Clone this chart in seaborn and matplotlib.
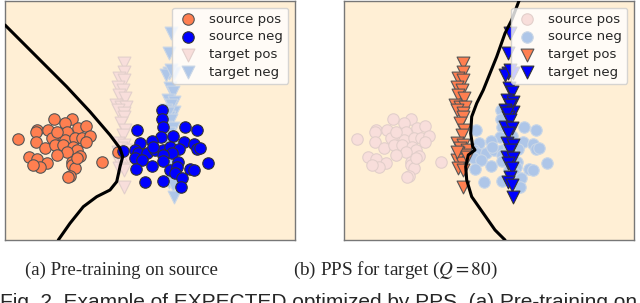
import numpy as np
import pandas as pd
import matplotlib
matplotlib.use("Agg")
import matplotlib.pyplot as plt
import seaborn as sns

# Data (same points in both panels)

src_pos_x = [49, 66.7, 60, 32.3, 43.3, 73.3, 80.7, 61.7, 30.7, 13.3, 30.7, 50, 46.7, 60, 70, 77.3, 85,
             81.3, 40, 50, 58.3, 68.3, 71.7, 61.7, 51.7, 75, 24.3, 31.7, 41.7, 35, 66.7, 66.7, 70, 97.3,
             65, 63.3, 71.7, 113.3, 52, 28]
src_pos_y = [121, 121, 116.7, 110, 110, 112.3, 114.3, 108.3, 107.7, 100.7, 98.3, 103.3, 101.7, 100, 101.7,
             102.3, 104.3, 97.7, 91.7, 95, 95, 93.3, 90, 88.3, 85, 84.3, 82.7, 81, 76.7, 73.3, 78.3, 75,
             71.7, 78.3, 64.3, 63.3, 81.7, 88.3, 108, 75]

src_neg_x = [156.7, 156.7, 158.3, 131.7, 180, 191.7, 168.3, 155.7, 147.3, 135, 179.3, 189, 192.3, 118.3,
             130, 133.3, 141.7, 150, 158.3, 165, 174.3, 166.7, 157.7, 130, 136.7, 158.3, 173.3, 203.3,
             147.3, 131, 165, 171.7, 185, 189, 170, 176.7, 140, 158.3, 175.7, 195, 148.3]
src_neg_y = [130, 120.7, 113.3, 110, 113.3, 110, 104, 102.7, 99.3, 97.3, 98.3, 95.7, 90.7, 89.3, 90, 86.7,
             86.7, 90, 90, 92.7, 90.7, 86.7, 85, 81.7, 80, 79.3, 78.3, 76.7, 74, 70.7, 70, 73.3, 70.7, 70,
             66.7, 61.7, 58.3, 59.3, 52.7, 91.7, 93.3]

tgt_pos_x = [118.7, 118.7, 114.3, 119.3, 112.7, 117.7, 114.3, 120, 111, 116, 121, 112.7, 118.7, 119.3, 116,
             120, 117.7, 112.7, 119.3, 116, 122.7, 114.3, 121, 112.7, 117.7, 114.3, 119.3, 118.7, 112.7,
             122.7]
tgt_pos_y = [177.3, 168.3, 161.7, 160, 153.3, 150, 145, 141.7, 135, 133.3, 132.7, 130, 126.7, 123.3, 116.7,
             110, 105, 96.7, 95, 91.7, 90, 86.7, 85, 80, 76.7, 71.7, 70, 53.3, 88.3, 83.3]

tgt_neg_x = [166, 164.3, 164.3, 169.3, 161, 166, 165.3, 167.7, 162.7, 169.3, 166, 161, 169.3, 164.3, 162.7,
             166, 161, 167.7, 164.3, 162.7, 169.3, 166, 162.7, 169.3, 164.3, 167.7, 166, 164.3, 167.7,
             168.7]
tgt_neg_y = [207.3, 187.3, 166.7, 166.7, 165, 170, 151.7, 148.3, 140, 138.3, 135, 130, 128.3, 123.3, 126.7,
             120, 113.3, 111.7, 106.7, 96.7, 95, 90, 83.3, 81.7, 76.7, 71.7, 63.3, 58.3, 55, 42.7]

# decision boundaries
bound_a_x = [0, 28.3, 61.7, 85, 105, 115, 117.7, 115, 111.7, 105, 91.7, 78.3, 65, 53.3]
bound_a_y = [215, 186.7, 153.3, 128.3, 105, 91.7, 83.3, 73.3, 58.3, 50, 43.3, 33.3, 16.7, 0]
bound_b_x = [175.3, 167.7, 161, 152.7, 146, 139.3, 132.7, 127.7, 126.7, 128.7, 131, 124.3, 121.7, 122.7,
             127.7, 139.3, 151, 161]
bound_b_y = [240, 220, 206.7, 183.3, 166.7, 150, 136.7, 123.3, 106.7, 93.3, 90, 85, 73.3, 60, 43.3, 26.7,
             10, 0]

captions = ["(a) Pre-training on source", "(b) PPS for target ($Q = 80$)"]
fig_caption = "Fig. 2. Example of EXPECTED optimized by PPS. (a) Pre-training on"

# Colors
bg = "papayawhip"
c_pos = "coral"
c_neg = "blue"
c_pos_light = "#F8DEDB"
c_neg_light = "#AEC6E8"

sns.set_style("white")
plt.rcParams["mathtext.fontset"] = "stix"

fig = plt.figure(figsize=(6.4, 3.03), dpi=100)
ax1 = fig.add_axes([5/640, 63/303, 290/640, 239/303])
ax2 = fig.add_axes([344/640, 63/303, 290/640, 239/303])

src_pos = pd.DataFrame({"x": src_pos_x, "y": src_pos_y})
src_neg = pd.DataFrame({"x": src_neg_x, "y": src_neg_y})
tgt_pos = pd.DataFrame({"x": tgt_pos_x, "y": tgt_pos_y})
tgt_neg = pd.DataFrame({"x": tgt_neg_x, "y": tgt_neg_y})

def draw(ax, focus_source, bx, by):
    ax.set_facecolor(bg)
    if focus_source:
        styles = [(c_pos, "#555555"), (c_neg, "#333333"), (c_pos_light, "#E2CFCB"), (c_neg_light, "#C9D6E6")]
    else:
        styles = [(c_pos_light, "#E2CFCB"), (c_neg_light, "#C9D6E6"), (c_pos, "#555555"), (c_neg, "#333333")]
    groups = [(src_pos, "o", "source pos"), (src_neg, "o", "source neg"),
              (tgt_pos, "v", "target pos"), (tgt_neg, "v", "target neg")]
    order = [2, 3, 0, 1] if focus_source else [0, 1, 2, 3]
    for i in order:
        d, m, lab = groups[i]
        fc, ec = styles[i]
        sns.scatterplot(data=d, x="x", y="y", ax=ax, marker=m, color=fc, edgecolor=ec,
                        linewidth=0.8, s=68 if m == "o" else 85, label=lab, zorder=3)
    ax.plot(bx, by, color="black", lw=2.2, zorder=4)
    ax.set_xlim(0, 290)
    ax.set_ylim(0, 239)
    ax.set_xticks([])
    ax.set_yticks([])
    ax.set_xlabel("")
    ax.set_ylabel("")
    for sp in ax.spines.values():
        sp.set_color("#777777")
        sp.set_linewidth(1.0)
    h, l = ax.get_legend_handles_labels()
    idx = [l.index(n) for n in ["source pos", "source neg", "target pos", "target neg"]]
    ax.legend([h[i] for i in idx], [l[i] for i in idx], loc="upper right", fontsize=9.5,
              framealpha=0.8, borderaxespad=0.5, handlelength=1.6, handletextpad=0.8,
              labelspacing=0.35, borderpad=0.4)

draw(ax1, True, bound_a_x, bound_a_y)
draw(ax2, False, bound_b_x, bound_b_y)

fig.text(121/640, 1 - 270/303, captions[0], ha="center", va="center",
         family="Liberation Serif", fontsize=13.5)
fig.text(395/640, 1 - 270/303, captions[1], ha="center", va="center",
         family="Liberation Serif", fontsize=13.8)
# the reference figure caption is cut by the bottom edge
fig.text(0.0, 1 - 307.5/303, fig_caption, ha="left", va="baseline",
         family="Liberation Sans", fontsize=15)

fig.savefig("out.png", dpi=100)
